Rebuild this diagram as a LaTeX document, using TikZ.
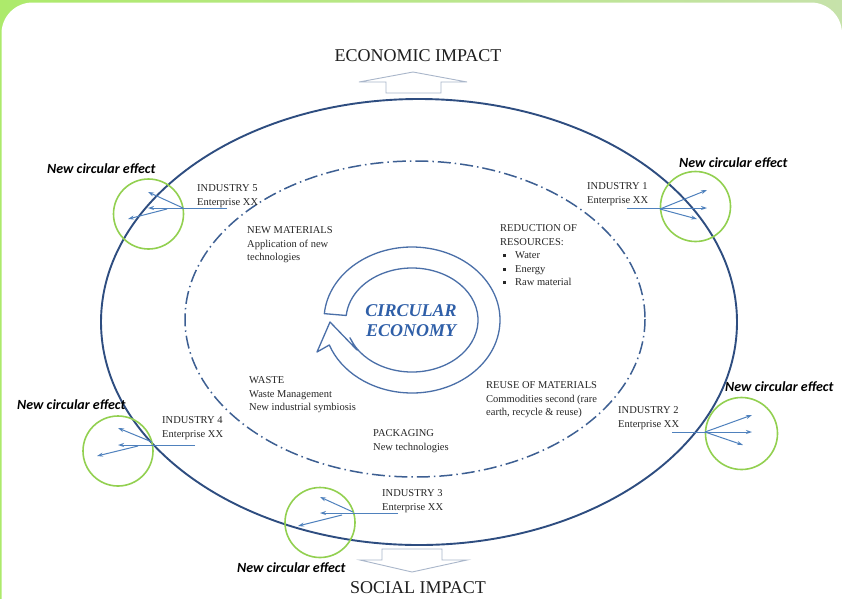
\documentclass[tikz,border=0pt]{standalone}
\usepackage{fontspec}
\setmainfont{Liberation Serif}
\newfontfamily\effectfont{Carlito}
\usetikzlibrary{arrows.meta,calc}
\definecolor{rim}{HTML}{2E4D80}
\definecolor{dashblue}{HTML}{3D5F92}
\definecolor{ringblue}{HTML}{4A6FA8}
\definecolor{flowblue}{HTML}{4F81BD}
\definecolor{effgreen}{HTML}{92D050}
\definecolor{impgray}{HTML}{A9B6CA}
\definecolor{hubblue}{HTML}{2F5FA8}
\definecolor{bgleft}{HTML}{ADEA6B}
\definecolor{bgright}{HTML}{C6E2AA}
\newcommand\resbullet{\hspace*{3pt}\makebox[12pt][l]{\raisebox{1.5pt}{\rule{3pt}{3pt}}}}
\tikzset{
	lbl/.style={font=\fontsize{10.5}{13.5}\selectfont, text=black!85, align=left, anchor=north west, inner sep=0},
	effect/.style={font=\effectfont\bfseries\itshape\fontsize{14}{16}\selectfont, anchor=west, inner sep=0},
	impact/.style={font=\fontsize{18}{20}\selectfont, text=black!88, inner sep=0},
	flow/.style={flowblue, line width=1pt, -{Stealth[length=6pt,width=4pt]}},
	effcircle/.style={draw=effgreen, line width=1.6pt, circle, inner sep=0},
	bigarrow/.style={impgray, line width=0.9pt, fill=white, line join=miter},
}
\begin{document}
\begin{tikzpicture}[x=1pt,y=-1pt]
		\useasboundingbox (0,0) rectangle (842,598);
		\clip (0,0) rectangle (842,598);
		%frame
		\fill[left color=bgleft, right color=bgright] (0,0) rectangle (842,598);
		\fill[white, rounded corners=31pt] (1.5,2.5) rectangle (842,640);
		%impacts
		\node[impact] (econ) at (418,56) {ECONOMIC IMPACT};
		\node[impact] (social) at (418,588) {SOCIAL IMPACT};
		\draw[bigarrow] (386,93) -- (386,82) -- (359,82) -- (413,72) -- (467,82) -- (441,82) -- (441,93) -- cycle;
		\draw[bigarrow] (382,549) -- (382,560) -- (360,560) -- (412,572) -- (467,560) -- (442,560) -- (442,549) -- cycle;
		%rims
		\coordinate (oc) at (419,322);
		\coordinate (ic) at (415,319);
		\draw[rim, line width=1.9pt] (oc) ellipse [x radius=318, y radius=223];
		\draw[dashblue, line width=1.5pt, dash pattern=on 13pt off 4pt on 1.5pt off 4pt] (ic) ellipse [x radius=230, y radius=158];
		%hub
		\coordinate (rc) at (412,320);
		\draw[ringblue, line width=1.3pt, fill=white, line join=round]
			($(rc)+(185:88 and 73)$) arc[start angle=185, end angle=520, x radius=88, y radius=73]
			-- (317,352) -- (330,322) -- (357,350)
			-- ($(rc)+(520:66 and 52)$) arc[start angle=520, end angle=185, x radius=66, y radius=52] -- cycle;
		\node[font=\bfseries\itshape\fontsize{18}{20}\selectfont, text=hubblue, align=center, inner sep=0] (hub) at (411,320.5) {CIRCULAR\\ECONOMY};
		%inner fields
		\node[lbl] (newmat) at (247,226.5) {NEW MATERIALS\\Application of new\\technologies};
		\node[lbl] (reduct) at (500,224.5) {REDUCTION OF\\RESOURCES:\\\resbullet Water\\\resbullet Energy\\\resbullet Raw material};
		\node[lbl] (waste) at (249,376.5) {WASTE\\Waste Management\\New industrial symbiosis};
		\node[lbl] (reuse) at (486,381.5) {REUSE OF MATERIALS\\Commodities second (rare\\earth, recycle \& reuse)};
		\node[lbl] (pack) at (373,429.5) {PACKAGING\\New technologies};
		%industries
		\node[lbl] (ind1) at (587,182.5) {INDUSTRY 1\\Enterprise XX};
		\node[lbl] (ind2) at (618,406.5) {INDUSTRY 2\\Enterprise XX};
		\node[lbl] (ind3) at (382,489.5) {INDUSTRY 3\\Enterprise XX};
		\node[lbl] (ind4) at (162,416.5) {INDUSTRY 4\\Enterprise XX};
		\node[lbl] (ind5) at (197,184.5) {INDUSTRY 5\\Enterprise XX};
		%effects
		\node[effcircle, minimum size=70pt] (c1) at (695.5,206.5) {};
		\node[effcircle, minimum size=72pt] (c2) at (741.5,433.5) {};
		\node[effcircle, minimum size=70pt] (c3) at (320,522.5) {};
		\node[effcircle, minimum size=70pt] (c4) at (118,451) {};
		\node[effcircle, minimum size=70pt] (c5) at (148.5,214) {};
		\node[effect] (eff1) at (679,163) {New circular effect};
		\node[effect] (eff2) at (725,387) {New circular effect};
		\node[effect] (eff3) at (237,568) {New circular effect};
		\node[effect] (eff4) at (17,405) {New circular effect};
		\node[effect] (eff5) at (47,169) {New circular effect};
		%flows
		\coordinate (i1s) at (627,208); \coordinate (i1f) at (660,209);
		\coordinate (i1p) at (707,208); \coordinate (i1q) at (707,190); \coordinate (i1r) at (697,219);
		\coordinate (i2s) at (672,432); \coordinate (i2f) at (705,432);
		\coordinate (i2p) at (752,432); \coordinate (i2q) at (752,415); \coordinate (i2r) at (743,445);
		\coordinate (i3s) at (398,513); \coordinate (i3f) at (353,512); \coordinate (i3g) at (342,515);
		\coordinate (i3p) at (320,513); \coordinate (i3q) at (320,497); \coordinate (i3r) at (298,526);
		\coordinate (i4s) at (195,445); \coordinate (i4f) at (152,442); \coordinate (i4g) at (138,446);
		\coordinate (i4p) at (118,445); \coordinate (i4q) at (118,428); \coordinate (i4r) at (97,456);
		\coordinate (i5s) at (227,208); \coordinate (i5f) at (183,208); \coordinate (i5g) at (167,209);
		\coordinate (i5p) at (148,208); \coordinate (i5q) at (148,192); \coordinate (i5r) at (128,219);
		\foreach \s/\e in {i1s/i1p, i1f/i1q, i1f/i1r, i2s/i2p, i2f/i2q, i2f/i2r,
			i3s/i3p, i3f/i3q, i3g/i3r, i4s/i4p, i4f/i4q, i4g/i4r, i5s/i5p, i5f/i5q, i5g/i5r}
			\draw[flow] (\s) -- (\e);
\end{tikzpicture}
\end{document}
